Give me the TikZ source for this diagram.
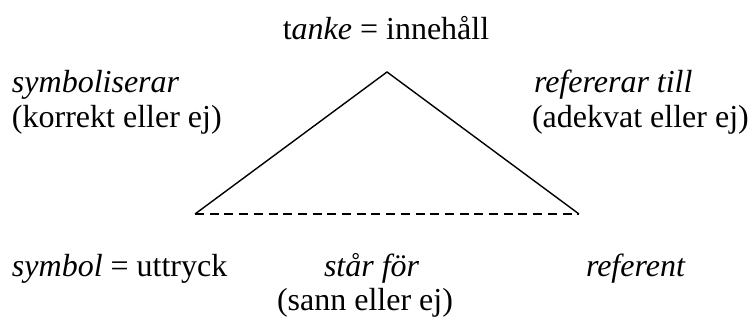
\documentclass[tikz,border=0pt]{standalone}
\usepackage{fontspec}
\setmainfont{Liberation Serif}[ItalicFont={Liberation Serif Italic}]
\begin{document}
\begin{tikzpicture}[x=1pt,y=-1pt,
  lbl/.style={inner sep=0pt,outer sep=0pt,font=\fontsize{32}{35}\selectfont},
  edge/.style={line width=1.4pt},
  dashedge/.style={line width=1.4pt,dash pattern=on 9pt off 5.7pt}]
\useasboundingbox (0,0) rectangle (754,320);
\node[lbl,anchor=base] (tanke) at (386,40) {t\textit{anke} = innehåll};
\node[lbl,anchor=base west] (symb) at (12,93) {\textit{symboliserar}};
\node[lbl,anchor=base west] (korr) at (12,128) {(korrekt eller ej)};
\node[lbl,anchor=base west] (ref) at (534,93) {\textit{refererar till}};
\node[lbl,anchor=base west] (adek) at (532,128) {(adekvat eller ej)};
\node[lbl,anchor=base west] (symbol) at (12,276) {\textit{symbol} = uttryck};
\node[lbl,anchor=base west] (star) at (324,276) {\textit{står för}};
\node[lbl,anchor=base west] (referent) at (586,276) {\textit{referent}};
\node[lbl,anchor=base] (sann) at (365,310) {(sann eller ej)};
\coordinate (apex) at (387,72);
\coordinate (L) at (195,214);
\coordinate (R) at (579,214);
\draw[edge,line join=miter] (L) -- (apex) -- (R);
\draw[dashedge] (L) -- (R);
\end{tikzpicture}
\end{document}
